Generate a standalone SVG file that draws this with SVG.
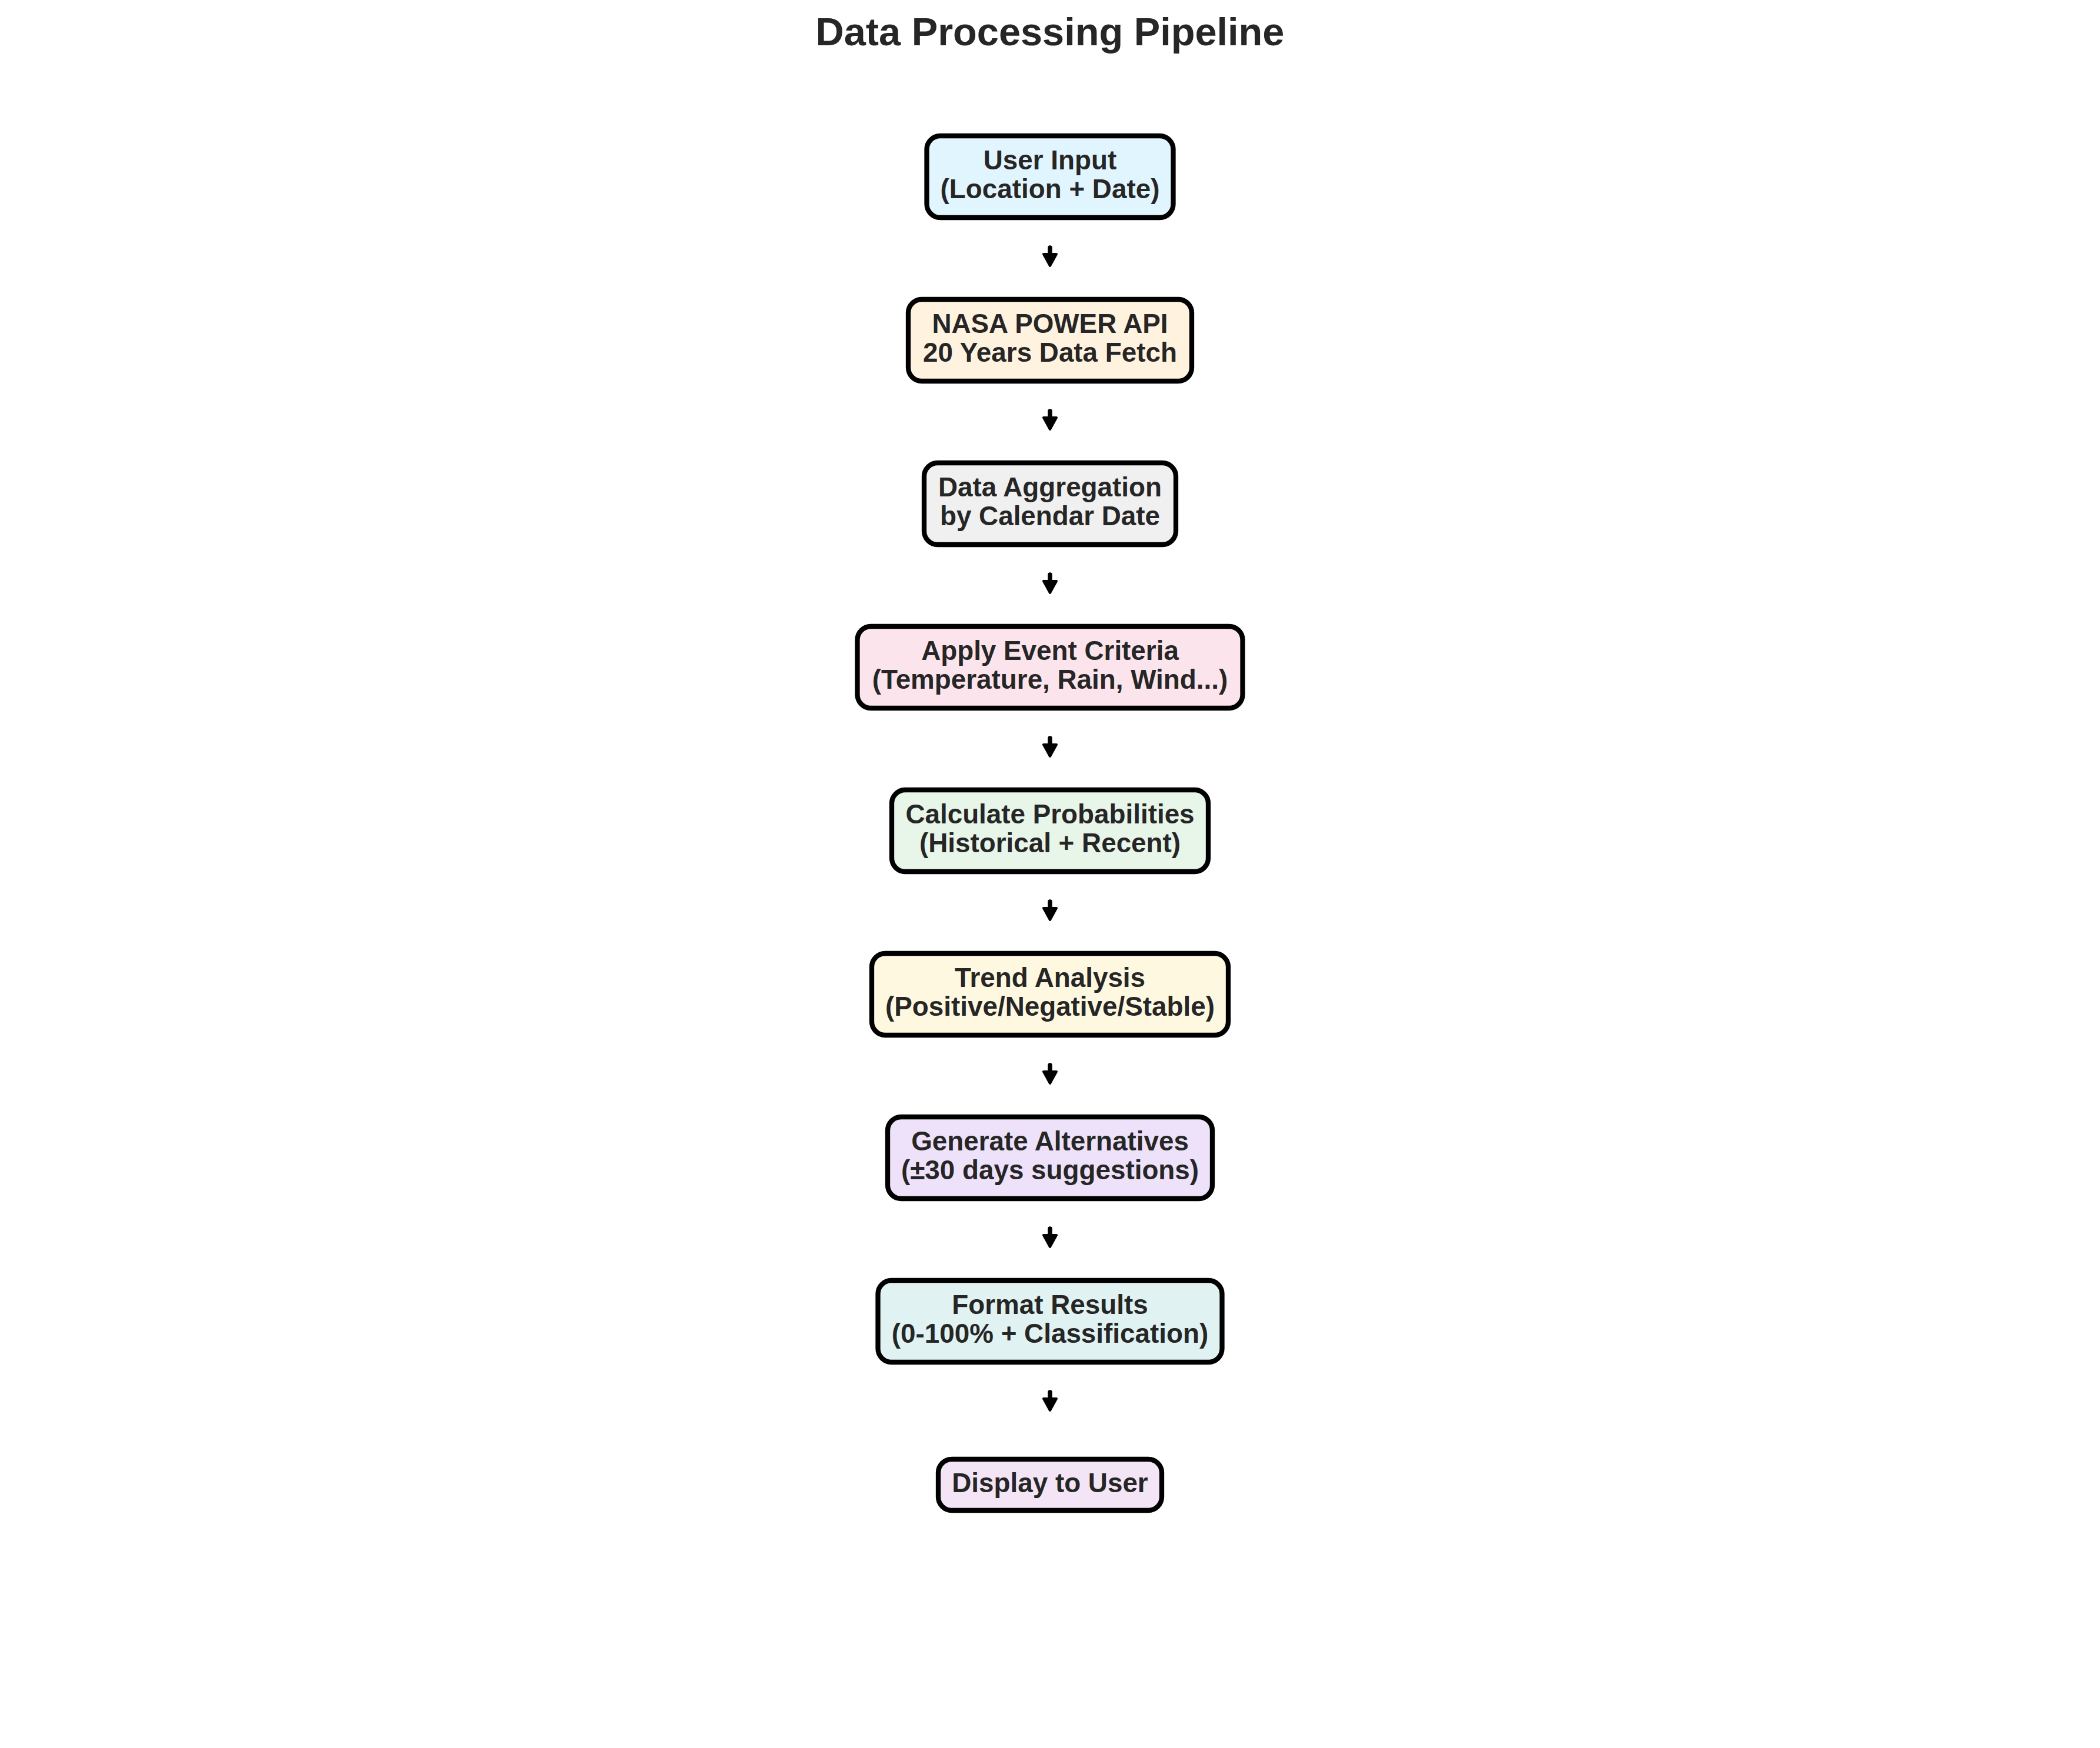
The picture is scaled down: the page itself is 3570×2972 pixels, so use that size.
<svg xmlns="http://www.w3.org/2000/svg" width="3570" height="2972" viewBox="0 0 3570 2972">
<style>
.bg{fill:#ffffff}
.title{font-family:"Liberation Sans",Arial,sans-serif;font-weight:bold;font-size:66.7px;fill:#262626;text-anchor:middle}
.box{stroke:#000000;stroke-width:8.3}
.lbl{font-family:"Liberation Sans",Arial,sans-serif;font-weight:bold;font-size:45.8px;fill:#262626;text-anchor:middle}
.conn{stroke:#000000;stroke-width:7.5;stroke-linecap:round;fill:none}
</style>
<defs>
<marker id="ah" markerUnits="userSpaceOnUse" viewBox="-5 -16 32 32" markerWidth="32" markerHeight="32" refX="0" refY="0" orient="auto" overflow="visible">
<path d="M0,-11 L20,0 L0,11 Z" fill="#000000" stroke="#000000" stroke-width="4" stroke-linejoin="round"/>
</marker>
</defs>
<rect class="bg" x="0" y="0" width="3570" height="2972"/>
<text class="title" x="1785" y="77">Data Processing Pipeline</text>

<g id="connectors">
<line class="conn" x1="1785" y1="421" x2="1785" y2="432" marker-end="url(#ah)"/>
<line class="conn" x1="1785" y1="699" x2="1785" y2="710" marker-end="url(#ah)"/>
<line class="conn" x1="1785" y1="977" x2="1785" y2="988" marker-end="url(#ah)"/>
<line class="conn" x1="1785" y1="1255" x2="1785" y2="1266" marker-end="url(#ah)"/>
<line class="conn" x1="1785" y1="1533" x2="1785" y2="1544" marker-end="url(#ah)"/>
<line class="conn" x1="1785" y1="1811" x2="1785" y2="1822" marker-end="url(#ah)"/>
<line class="conn" x1="1785" y1="2089" x2="1785" y2="2100" marker-end="url(#ah)"/>
<line class="conn" x1="1785" y1="2367" x2="1785" y2="2378" marker-end="url(#ah)"/>
</g>

<g id="node-user-input">
<rect class="box" x="1575.5" y="231" width="419" height="139" rx="23" fill="#E1F5FE"/>
<text class="lbl" x="1785" y="288">User Input</text>
<text class="lbl" x="1785" y="337">(Location + Date)</text>
</g>

<g id="node-nasa-api">
<rect class="box" x="1544" y="509" width="482" height="139" rx="23" fill="#FFF3E0"/>
<text class="lbl" x="1785" y="566">NASA POWER API</text>
<text class="lbl" x="1785" y="615">20 Years Data Fetch</text>
</g>

<g id="node-aggregation">
<rect class="box" x="1571" y="787" width="428" height="139" rx="23" fill="#F0F0F0"/>
<text class="lbl" x="1785" y="844">Data Aggregation</text>
<text class="lbl" x="1785" y="893">by Calendar Date</text>
</g>

<g id="node-criteria">
<rect class="box" x="1457.5" y="1065" width="655" height="139" rx="23" fill="#FCE4EC"/>
<text class="lbl" x="1785" y="1122">Apply Event Criteria</text>
<text class="lbl" x="1785" y="1171">(Temperature, Rain, Wind...)</text>
</g>

<g id="node-probabilities">
<rect class="box" x="1516" y="1343" width="538" height="139" rx="23" fill="#E8F5E9"/>
<text class="lbl" x="1785" y="1400">Calculate Probabilities</text>
<text class="lbl" x="1785" y="1449">(Historical + Recent)</text>
</g>

<g id="node-trend">
<rect class="box" x="1482" y="1621" width="606" height="139" rx="23" fill="#FFF8E1"/>
<text class="lbl" x="1785" y="1678">Trend Analysis</text>
<text class="lbl" x="1785" y="1727">(Positive/Negative/Stable)</text>
</g>

<g id="node-alternatives">
<rect class="box" x="1509" y="1899" width="552" height="139" rx="23" fill="#EEE1FA"/>
<text class="lbl" x="1785" y="1956">Generate Alternatives</text>
<text class="lbl" x="1785" y="2005">(±30 days suggestions)</text>
</g>

<g id="node-format">
<rect class="box" x="1492.5" y="2177" width="585" height="139" rx="23" fill="#E0F2F1"/>
<text class="lbl" x="1785" y="2234">Format Results</text>
<text class="lbl" x="1785" y="2283">(0-100% + Classification)</text>
</g>

<g id="node-display">
<rect class="box" x="1595" y="2481" width="380" height="87" rx="23" fill="#F3E5F5"/>
<text class="lbl" x="1785" y="2537">Display to User</text>
</g>
</svg>
